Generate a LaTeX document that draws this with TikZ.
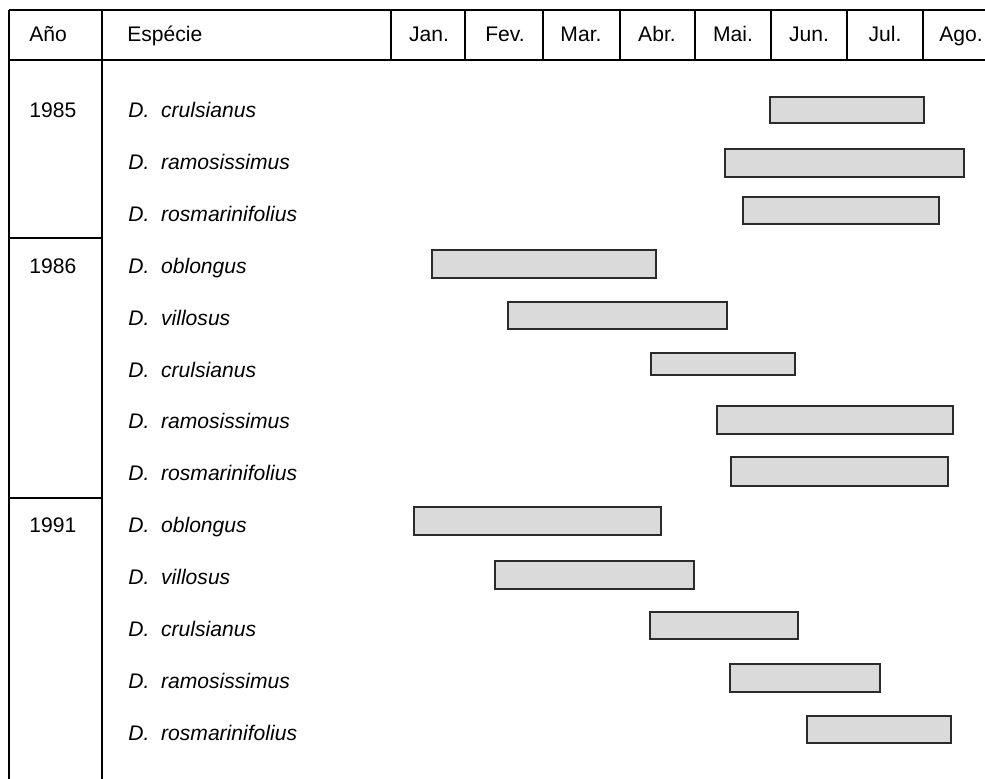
\documentclass[tikz,border=0pt]{standalone}
\usepackage{fontspec}
\setmainfont{Liberation Sans}
\usetikzlibrary{positioning}
\definecolor{barFill}{HTML}{DADADA}
\definecolor{barEdge}{HTML}{2B2B2B}
\tikzset{
  rule/.style     = {line width=0.8pt, black},
  edgerule/.style = {line width=1.3pt, black},
  txt/.style      = {font=\fontsize{12}{14}\selectfont, inner sep=0pt,
                     text height=0.72em, text depth=0.2em},
  hdr/.style      = {txt},
  yearlbl/.style  = {txt, anchor=west},
  spclbl/.style   = {txt, font=\fontsize{12}{14}\selectfont\itshape, anchor=west},
  bar/.style      = {fill=barFill, draw=barEdge, line width=1pt},
}

\begin{document}
\begin{tikzpicture}[x=0.2mm, y=-0.2mm]
\useasboundingbox (0,0) rectangle (985,779);
% table frame
\draw[edgerule] (9,10) -- (9,779);
\draw[rule] (9,10) -- (985,10);
\draw[rule] (9,60) -- (985,60);
\draw[rule] (102,10) -- (102,779);
\foreach \x in {391,465,543,620,695,771,847,923}
  \draw[rule] (\x,10) -- (\x,60);
\draw[rule] (9,238) -- (102,238);
\draw[rule] (9,498) -- (102,498);
% header
\node[yearlbl] (ano) at (29,37) {Año};
\node[yearlbl] (especie) at (127,37) {Espécie};
\foreach \m [count=\i] in {Jan.,Fev.,Mar.,Abr.,Mai.,Jun.,Jul.,Ago.}
  \node[hdr] (mes\i) at ({391+76*(\i-0.5)},37) {\m};
% years
\node[yearlbl] (y1985) at (29,113) {1985};
\node[yearlbl] (y1986) at (29,269) {1986};
\node[yearlbl] (y1991) at (29,528) {1991};
% species, one row each
\foreach \s [count=\i] in {crulsianus,ramosissimus,rosmarinifolius,
    oblongus,villosus,crulsianus,ramosissimus,rosmarinifolius,
    oblongus,villosus,crulsianus,ramosissimus,rosmarinifolius}
  \node[spclbl] (sp\i) at (128,{113+51.9*(\i-1)}) {D.\ \ \s};
% flowering periods
\foreach \xa/\xb/\ya/\yb in {770/924/97/123, 725/964/149/177, 743/939/197/224,
    432/656/250/278, 508/727/302/329, 651/795/353/375, 717/953/406/434,
    731/948/457/486, 414/661/507/535, 495/694/561/589, 650/798/612/639,
    730/880/664/692, 807/951/716/743}
  \draw[bar] (\xa,\ya) rectangle (\xb,\yb);
\end{tikzpicture}
\end{document}
